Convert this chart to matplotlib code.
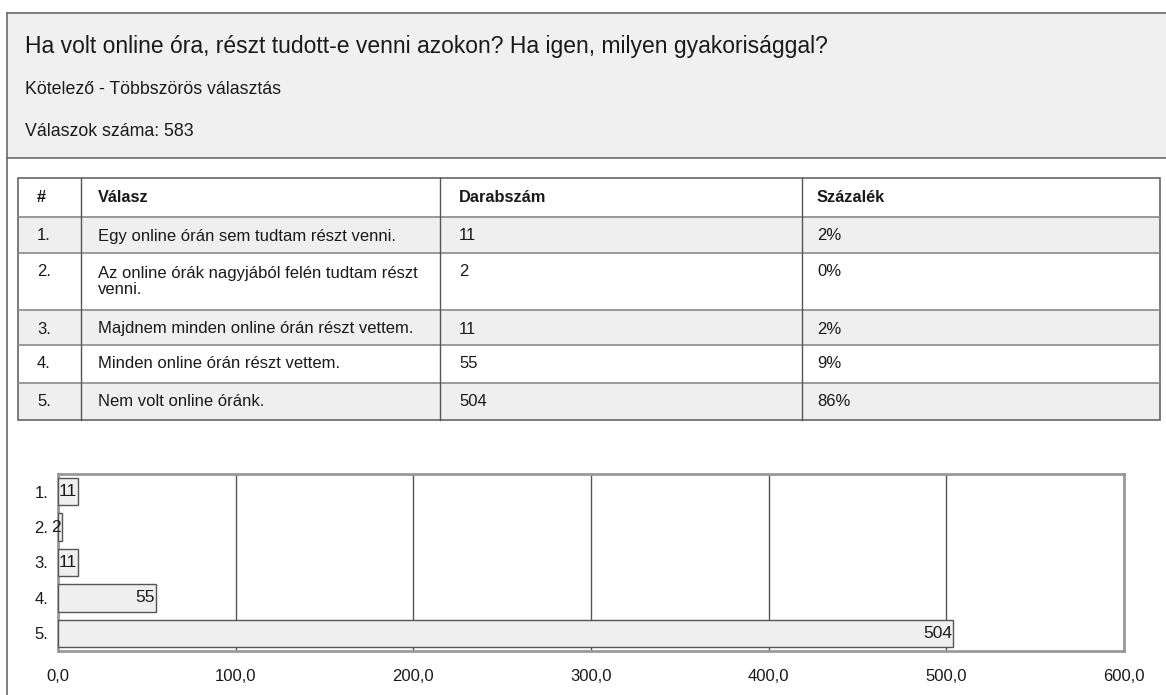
import matplotlib
matplotlib.use("Agg")
import matplotlib.pyplot as plt
from matplotlib.patches import Rectangle

plt.rcParams['font.family'] = ['Liberation Sans', 'DejaVu Sans']

# survey data
title = "Ha volt online óra, részt tudott-e venni azokon? Ha igen, milyen gyakorisággal?"
subtitle = "Kötelező - Többszörös választás"
answer_count_text = "Válaszok száma: 583"

headers = ["#", "Válasz", "Darabszám", "Százalék"]
row_nums = ["1.", "2.", "3.", "4.", "5."]
answers = [
    "Egy online órán sem tudtam részt venni.",
    "Az online órák nagyjából felén tudtam részt\nvenni.",
    "Majdnem minden online órán részt vettem.",
    "Minden online órán részt vettem.",
    "Nem volt online óránk.",
]
counts = [11, 2, 11, 55, 504]
percents = ["2%", "0%", "2%", "9%", "86%"]
x_ticks = [0, 100, 200, 300, 400, 500, 600]

W, H = 1166, 695
fig = plt.figure(figsize=(W / 100, H / 100), dpi=100)
fig.patch.set_facecolor("white")

# background layer in pixel coordinates
bg = fig.add_axes([0, 0, 1, 1])
bg.set_xlim(0, W)
bg.set_ylim(H, 0)
bg.axis("off")

text_col = "#1a1a1a"
line_col = "#6a6a6a"

# header box
bg.add_patch(Rectangle((7, 13), W, 145, facecolor="#f0f0f0", edgecolor="none"))
bg.plot([7, W], [13, 13], color=line_col, lw=1.2)
bg.plot([7, W], [158, 158], color=line_col, lw=1.2)
bg.plot([7, 7], [13, H], color=line_col, lw=1.2)

bg.text(25, 46, title, fontsize=16.5, color=text_col, va="center")
bg.text(25, 89, subtitle, fontsize=12.8, color=text_col, va="center")
bg.text(25, 131, answer_count_text, fontsize=12.8, color=text_col, va="center")

# table
col_x = [18, 81, 440, 802, 1160]
row_y = [178, 217, 253, 310, 345, 383, 420]
text_x = [37, 98, 459, 817]

for i in range(len(row_nums)):
    if i % 2 == 0:
        bg.add_patch(Rectangle((col_x[0], row_y[i + 1]), col_x[-1] - col_x[0],
                               row_y[i + 2] - row_y[i + 1],
                               facecolor="#efefef", edgecolor="none"))

for y in row_y[1:-1]:
    bg.plot([col_x[0], col_x[-1]], [y, y], color="#8a8a8a", lw=1.2)
for x in col_x[1:-1]:
    bg.plot([x, x], [row_y[0], row_y[-1]], color="#555555", lw=1.0)
bg.add_patch(Rectangle((col_x[0], row_y[0]), col_x[-1] - col_x[0], row_y[-1] - row_y[0],
                       facecolor="none", edgecolor="#666666", lw=1.2))

for j, h in enumerate(headers):
    bg.text(text_x[j], row_y[0] + 20, h, fontsize=11.8, fontweight="bold",
            color=text_col, va="center")

for i in range(len(row_nums)):
    ty = row_y[i + 1] + 19
    cells = [row_nums[i], answers[i], str(counts[i]), percents[i]]
    for j, c in enumerate(cells):
        if "\n" in c:
            bg.text(text_x[j], ty + 9.5, c, fontsize=12, color=text_col, va="center",
                    linespacing=1.1)
        else:
            bg.text(text_x[j], ty, c, fontsize=12, color=text_col, va="center")

# bar chart
left, right, top, bottom = 58, 1124, 474, 651
ax = fig.add_axes([left / W, (H - bottom) / H, (right - left) / W, (bottom - top) / H])
ax.set_facecolor("white")
ypos = list(range(len(counts)))
ax.barh(ypos, counts, height=0.77, color="#efefef", edgecolor="#555555", linewidth=1.0, zorder=3)
for y, v in zip(ypos, counts):
    ax.text(v - 0.6, y, str(v), ha="right", va="center", fontsize=12.5, color=text_col, zorder=4)

ax.set_xlim(0, 600)
ax.set_ylim(len(counts) - 0.5, -0.5)
ax.set_xticks(x_ticks)
ax.set_xticklabels([f"{t:.1f}".replace(".", ",") for t in x_ticks])
ax.set_yticks(ypos)
ax.set_yticklabels(row_nums)
ax.tick_params(length=0, labelsize=12, colors=text_col)
ax.tick_params(axis="x", pad=13)
ax.tick_params(axis="y", pad=7)
ax.grid(axis="x", color="#555555", lw=1.0, zorder=1)
for s in ax.spines.values():
    s.set_color("#999999")
    s.set_linewidth(2.0)

fig.savefig("out.png", dpi=100)
